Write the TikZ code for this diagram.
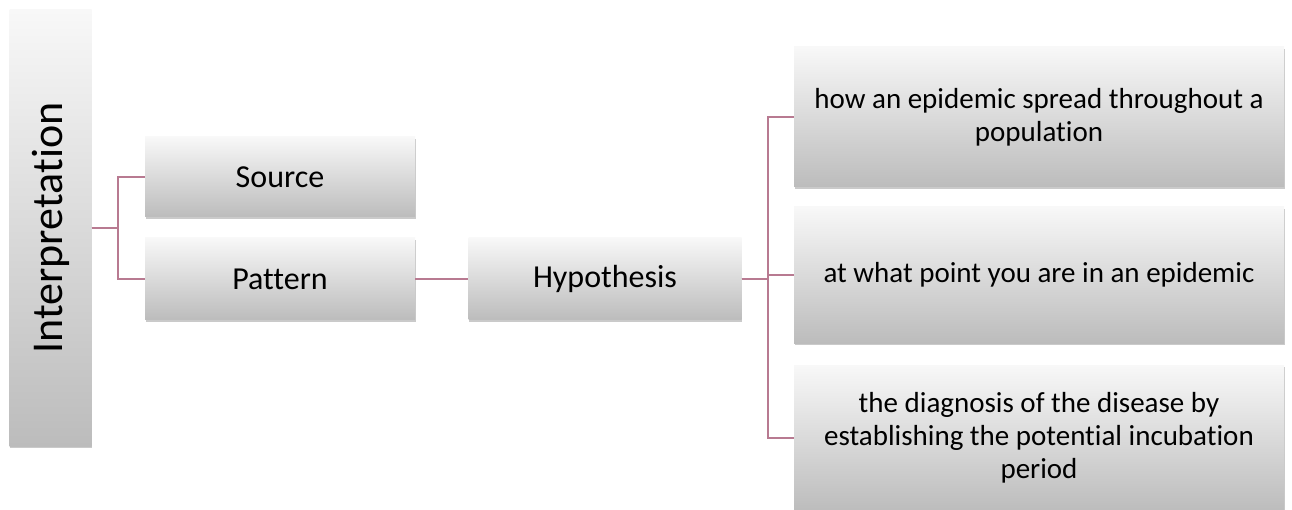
\documentclass[tikz,border=0pt]{standalone}
\usepackage{fontspec}
\setmainfont{Carlito}[Ligatures={NoCommon}]
\usetikzlibrary{shadows}
\definecolor{conn}{RGB}{184,122,145}
\definecolor{topc}{RGB}{248,248,248}
\definecolor{botc}{RGB}{188,188,188}
\tikzset{
  gbox/.style={rectangle, inner sep=2pt, top color=topc, bottom color=botc, draw=none,
    drop shadow={shadow xshift=0.8pt, shadow yshift=-2pt, opacity=0.35, fill=black!60},
    align=center, font=\fontsize{32}{35}\selectfont},
  rbox/.style={gbox, minimum width=490pt, font=\fontsize{29}{33}\selectfont},
  link/.style={draw=conn, line width=1.6pt}
}
\begin{document}
\begin{tikzpicture}[x=1pt,y=-1pt]
\useasboundingbox (0,0) rectangle (1292,510);
\node[gbox, minimum width=82pt, minimum height=436pt] (interp) at (50.5,228) {};
\node[rotate=90, font=\fontsize{44}{48}\selectfont] (interpt) at (interp.center) {Interpretation};
\node[gbox, minimum width=270pt, minimum height=80pt] (src) at (280,177) {Source};
\node[gbox, minimum width=270pt, minimum height=82pt] (pat) at (280,279) {Pattern};
\node[gbox, minimum width=273pt, minimum height=82pt] (hyp) at (605,279) {Hypothesis};
\node[rbox, minimum height=140pt] (r1) at (1039,117) {how an epidemic spread throughout a\\population};
\node[rbox, minimum height=136pt] (r2) at (1039,275) {at what point you are in an epidemic};
\node[rbox, minimum height=146pt] (r3) at (1039,438) {the diagnosis of the disease by\\establishing the potential incubation\\period};
\draw[link] (interp.east) -- ++(26,0) |- (src.west);
\draw[link] (interp.east) -- ++(26,0) |- (pat.west);
\draw[link] (pat.east) -- (hyp.west);
\draw[link] (hyp.east) -- ++(26,0) |- (r1.west);
\draw[link] (hyp.east) -- ++(26,0) |- (r2.west);
\draw[link] (hyp.east) -- ++(26,0) |- (r3.west);
\end{tikzpicture}
\end{document}
